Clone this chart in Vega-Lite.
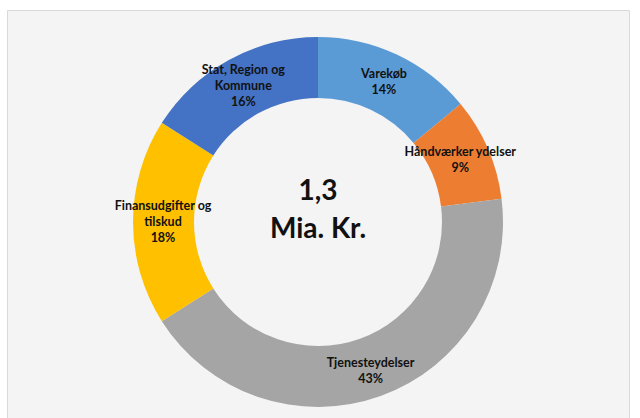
{
  "$schema": "https://vega.github.io/schema/vega-lite/v6.json",
  "autosize": "none",
  "width": 622,
  "height": 424,
  "padding": {"left": 7, "top": 10, "right": 11, "bottom": 0},
  "background": "#FFFFFF",
  "view": {"fill": "#F4F4F4", "stroke": "#D9D9D9", "strokeWidth": 1},
  "config": {
    "font": "Lato"
  },
  "data": {
    "values": [
      {"cat": "Varekøb", "pct": 14, "rank": 1, "label": "Varekøb\n14%"},
      {"cat": "Håndværker ydelser", "pct": 9, "rank": 2, "label": "Håndværker ydelser\n9%"},
      {"cat": "Tjenesteydelser", "pct": 43, "rank": 3, "label": "Tjenesteydelser\n43%"},
      {"cat": "Finansudgifter og tilskud", "pct": 18, "rank": 4, "label": "Finansudgifter og\ntilskud\n18%"},
      {"cat": "Stat, Region og Kommune", "pct": 16, "rank": 5, "label": "Stat, Region og\nKommune\n16%"}
    ]
  },
  "encoding": {
    "theta": {"field": "pct", "type": "quantitative", "stack": true},
    "order": {"field": "rank", "type": "quantitative"}
  },
  "layer": [
    {
      "mark": {"type": "arc", "innerRadius": 124, "outerRadius": 185},
      "encoding": {
        "color": {
          "field": "cat",
          "type": "nominal",
          "scale": {
            "domain": ["Varekøb", "Håndværker ydelser", "Tjenesteydelser", "Finansudgifter og tilskud", "Stat, Region og Kommune"],
            "range": ["#5B9BD5", "#ED7D31", "#A5A5A5", "#FFC000", "#4472C4"]
          },
          "legend": null
        }
      }
    },
    {
      "mark": {"type": "text", "radius": 155, "dy": -8, "fontSize": 12.5, "fontWeight": "bold", "lineBreak": "\n", "lineHeight": 16, "color": "#111111", "align": "center", "baseline": "middle"},
      "encoding": {
        "text": {"condition": {"test": "datum.cat !== 'Varekøb' && datum.cat !== 'Håndværker ydelser'", "value": ""}, "field": "label"}
      }
    },
    {
      "mark": {"type": "text", "radius": 155, "dy": -16, "fontSize": 12.5, "fontWeight": "bold", "lineBreak": "\n", "lineHeight": 16, "color": "#111111", "align": "center", "baseline": "middle"},
      "encoding": {
        "text": {"condition": {"test": "datum.cat !== 'Finansudgifter og tilskud' && datum.cat !== 'Stat, Region og Kommune'", "value": ""}, "field": "label"}
      }
    },
    {
      "mark": {"type": "text", "radius": 155, "dy": -5, "fontSize": 12.5, "fontWeight": "bold", "lineBreak": "\n", "lineHeight": 16, "color": "#111111", "align": "center", "baseline": "middle"},
      "encoding": {
        "text": {"condition": {"test": "datum.cat !== 'Tjenesteydelser'", "value": ""}, "field": "label"}
      }
    },
    {
      "data": {"values": [{"t": "1,3\nMia. Kr."}]},
      "mark": {"type": "text", "fontSize": 28, "fontWeight": "bold", "lineBreak": "\n", "lineHeight": 38, "color": "#111111", "align": "center", "baseline": "middle", "dy": -30},
      "encoding": {
        "text": {"field": "t"},
        "theta": null,
        "order": null
      }
    }
  ]
}
